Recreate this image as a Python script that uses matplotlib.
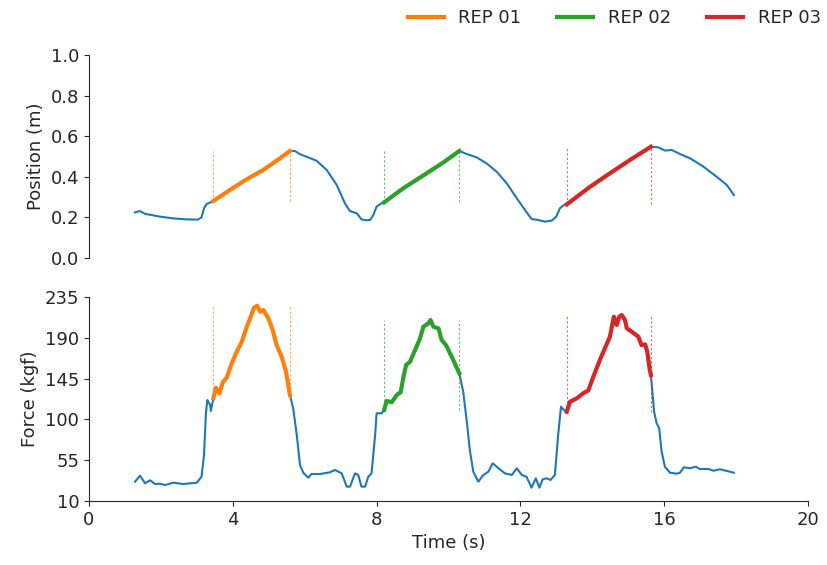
import matplotlib
matplotlib.use("Agg")
import matplotlib.pyplot as plt
import numpy as np
from matplotlib.lines import Line2D

# position trace
pos_time = [1.28, 1.42, 1.56, 1.70, 1.97, 2.34, 2.72, 3.03, 3.13, 3.20, 3.27, 3.41,
            3.46, 3.92, 4.39, 4.85, 5.31, 5.59,
            5.73, 5.87, 6.05, 6.33, 6.61, 6.89, 7.12, 7.26, 7.45, 7.58, 7.70, 7.82,
            7.91, 8.00, 8.14,
            8.21, 8.74, 9.39, 9.86, 10.30,
            10.51, 10.78, 11.06, 11.34, 11.62, 11.90, 12.13, 12.31, 12.50, 12.68,
            12.87, 13.00, 13.10, 13.21,
            13.29, 13.94, 14.49, 15.05, 15.63,
            15.84, 16.02, 16.21, 16.44, 16.72, 17.09, 17.46, 17.74, 17.94]
position = [0.225, 0.231, 0.217, 0.213, 0.204, 0.195, 0.190, 0.189, 0.200, 0.245, 0.266, 0.276,
            0.281, 0.335, 0.388, 0.434, 0.491, 0.527,
            0.527, 0.511, 0.499, 0.479, 0.434, 0.360, 0.269, 0.231, 0.220, 0.190, 0.186, 0.187,
            0.212, 0.253, 0.269,
            0.274, 0.343, 0.417, 0.471, 0.527,
            0.512, 0.496, 0.466, 0.425, 0.368, 0.294, 0.236, 0.192, 0.187, 0.179,
            0.184, 0.204, 0.245, 0.261,
            0.264, 0.351, 0.417, 0.483, 0.548,
            0.545, 0.529, 0.532, 0.512, 0.491, 0.450, 0.400, 0.360, 0.310]

# force trace
force_time = [1.28, 1.42, 1.56, 1.70, 1.84, 1.97, 2.11, 2.35, 2.62, 3.00, 3.13, 3.20,
              3.25, 3.29, 3.37, 3.39,
              3.46, 3.53, 3.63, 3.72, 3.83, 3.97, 4.11, 4.25, 4.39, 4.50, 4.59, 4.68,
              4.76, 4.85, 4.99, 5.11, 5.22, 5.36, 5.48, 5.59,
              5.68, 5.78, 5.87, 5.96, 6.10, 6.19, 6.43, 6.70, 6.84, 7.03, 7.17, 7.26,
              7.40, 7.49, 7.58, 7.68, 7.77, 7.86, 7.96, 8.00, 8.14,
              8.21, 8.28, 8.42, 8.56, 8.67, 8.74, 8.82, 8.93, 9.07, 9.21, 9.30, 9.44,
              9.50, 9.58, 9.72, 9.81, 9.93, 10.09, 10.30,
              10.41, 10.51, 10.60, 10.69, 10.83, 10.97, 11.11, 11.23, 11.39, 11.57,
              11.76, 11.90, 12.04, 12.17, 12.31, 12.43, 12.53, 12.62, 12.73, 12.84,
              12.96, 13.05, 13.13, 13.21,
              13.29, 13.38, 13.57, 13.75, 13.89, 14.03, 14.21, 14.35, 14.49, 14.60,
              14.68, 14.75, 14.82, 14.91, 14.96, 15.10, 15.28, 15.37, 15.47, 15.53,
              15.60, 15.63,
              15.72, 15.79, 15.86, 15.93, 16.02, 16.16, 16.35, 16.44, 16.55, 16.72,
              16.88, 16.99, 17.23, 17.37, 17.55, 17.74, 17.94]
force = [31.3, 37.9, 29.5, 32.8, 28.7, 29.1, 27.6, 30.2, 28.7, 30.2, 36.8, 60.7,
         104.8, 121.4, 115.9, 109.3,
         123.3, 135.0, 128.8, 140.9, 146.0, 161.8, 174.7, 185.7, 202.2, 213.3, 223.2, 225.4,
         218.8, 220.7, 211.5, 198.6, 182.0, 169.2, 152.6, 126.9,
         112.2, 82.8, 49.7, 41.2, 35.7, 39.8, 39.8, 41.6, 44.2, 40.5, 25.8, 25.8,
         40.5, 38.7, 25.8, 25.8, 36.8, 40.5, 82.8, 106.7, 106.7,
         110.4, 120.3, 118.9, 126.9, 129.9, 145.3, 160.0, 163.6, 176.5, 189.4, 202.2, 206.0,
         209.6, 202.2, 200.5, 187.6, 182.0, 169.2, 150.8,
         130.6, 97.5, 64.4, 42.3, 31.3, 38.7, 42.3, 51.6, 46.1, 40.5,
         38.7, 46.1, 38.7, 36.8, 24.7, 35.0, 24.7, 33.9, 35.0, 33.2,
         38.7, 82.8, 114.0, 110.4,
         108.5, 119.5, 123.3, 128.8, 132.0, 147.1, 165.5, 178.4, 191.2, 213.3,
         204.1, 213.3, 215.1, 209.6, 200.5, 196.7, 191.2, 182.0, 182.8, 174.7,
         154.5, 149.0,
         108.5, 95.7, 90.2, 64.4, 47.8, 41.2, 40.1, 41.2, 47.2, 46.1,
         47.8, 45.3, 45.3, 43.4, 45.0, 43.1, 41.2]

rep_labels = ["REP 01", "REP 02", "REP 03"]
rep_start = [3.46, 8.21, 13.29]
rep_end = [5.59, 10.30, 15.63]
rep_colors = ["tab:orange", "tab:green", "tab:red"]

pos_ticks = [0.0, 0.2, 0.4, 0.6, 0.8, 1.0]
force_ticks = [10, 55, 100, 145, 190, 235]
time_ticks = [0, 4, 8, 12, 16, 20]

plt.rcParams["font.size"] = 13
plt.rcParams["text.color"] = "#262626"
plt.rcParams["axes.labelcolor"] = "#262626"
plt.rcParams["xtick.color"] = "#262626"
plt.rcParams["ytick.color"] = "#262626"
plt.rcParams["axes.edgecolor"] = "#262626"

fig = plt.figure(figsize=(8.27, 5.65), dpi=100)
ax_pos = fig.add_axes([0.1076, 0.5434, 0.8694, 0.3593])
ax_force = fig.add_axes([0.1076, 0.1133, 0.8694, 0.3610])


def draw_panel(ax, t, y):
    t = np.asarray(t)
    y = np.asarray(y)
    ax.plot(t, y, color="tab:blue", lw=1.5)
    for s, e, c in zip(rep_start, rep_end, rep_colors):
        m = (t >= s - 1e-6) & (t <= e + 1e-6)
        ax.plot(t[m], y[m], color=c, lw=3)
        lo, hi = y[m].min(), y[m].max()
        ax.vlines([s, e], lo, hi, colors=c, lw=0.8, alpha=0.7,
                  linestyles=(0, (2, 2)))
    for side in ["top", "right"]:
        ax.spines[side].set_visible(False)
    ax.set_xlim(0, 20)


draw_panel(ax_pos, pos_time, position)
ax_pos.set_ylim(0, 1)
ax_pos.set_yticks(pos_ticks)
ax_pos.set_ylabel("Position (m)")
ax_pos.spines["bottom"].set_visible(False)
ax_pos.set_xticks([])

draw_panel(ax_force, force_time, force)
ax_force.set_ylim(10, 235)
ax_force.set_yticks(force_ticks)
ax_force.set_xticks(time_ticks)
ax_force.set_ylabel("Force (kgf)")
ax_force.set_xlabel("Time (s)")

handles = [Line2D([0], [0], color=c, lw=3) for c in rep_colors]
fig.legend(handles, rep_labels, loc="upper right", ncol=3, frameon=False,
           bbox_to_anchor=(1.012, 1.012), columnspacing=2.0)

fig.savefig("out.png", dpi=100)
